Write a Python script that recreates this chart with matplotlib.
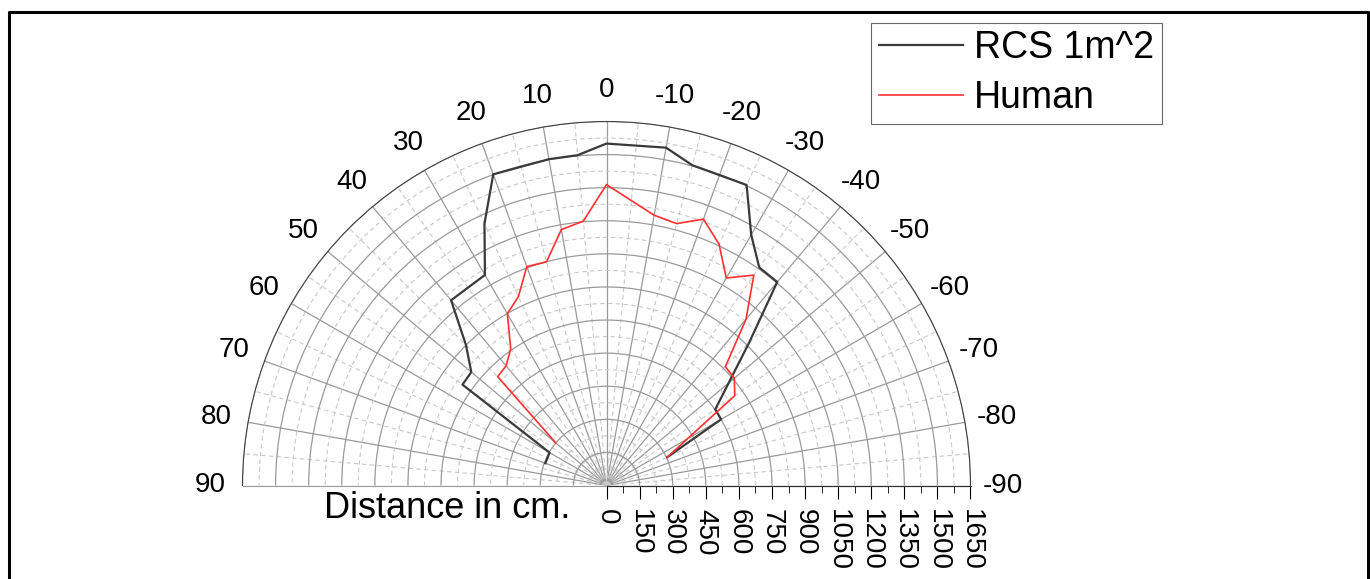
import numpy as np
import matplotlib
matplotlib.use('Agg')
import matplotlib.pyplot as plt
from matplotlib.ticker import MultipleLocator
from matplotlib.lines import Line2D

plt.rcParams['font.family'] = ['Liberation Sans', 'DejaVu Sans']

# angle in degrees, distance in cm
rcs_angle = [70, 60, 55, 50, 45, 40, 30, 25, 20, 10, 5, 0, -10, -15, -25, -30, -35, -40, -45, -55, -60, -65]
rcs_dist = [295, 298, 797, 800, 901, 1096, 1102, 1309, 1501, 1502, 1503, 1550, 1555, 1503, 1503, 1312, 1207, 1204, 913, 602, 600, 304]

human_angle = [50, 45, 40, 35, 30, 25, 20, 15, 10, 5, 0, -10, -15, -20, -25, -30, -35, -40, -45, -50, -55, -65]
human_dist = [300, 698, 708, 757, 899, 945, 1056, 1050, 1178, 1203, 1364, 1244, 1229, 1285, 1207, 1086, 1164, 984, 762, 756, 710, 304]

theta_ticks = np.arange(-90, 91, 10)
r_max = 1650
r_ticks = np.arange(0, r_max + 1, 150)

W, H = 1370, 579
fig = plt.figure(figsize=(W / 100, H / 100), dpi=100)

# half polar plot: 0 at top, positive angles to the left
# (polar axes keep a square box, the half disc sits in its middle)
ax = fig.add_axes([242.5 / W, 1 - 667.5 / H, 728 / W, 728 / H], projection='polar')
ax.set_theta_zero_location('N')
ax.set_theta_direction(1)
ax.set_thetamin(-90)
ax.set_thetamax(90)
ax.set_rlim(0, r_max)

ax.plot(np.deg2rad(rcs_angle), rcs_dist, color='#3a3a3a', lw=1.6, label='RCS 1m^2')
ax.plot(np.deg2rad(human_angle), human_dist, color='#ff3030', lw=1.2, label='Human')

ax.set_xticks(np.deg2rad(theta_ticks))
ax.set_xticklabels([str(t) for t in theta_ticks])
ax.set_xticks(np.deg2rad(np.arange(-85, 90, 10)), minor=True)
ax.set_yticks(r_ticks)
ax.set_yticks(np.arange(75, r_max, 150), minor=True)
ax.set_yticklabels([])
ax.tick_params(axis='y', which='both', length=0)
ax.tick_params(axis='x', which='major', direction='in', length=6, color='#404040', labelsize=20, pad=16)
ax.tick_params(axis='x', which='minor', direction='in', length=4, color='#404040')

ax.grid(which='major', color='#9a9a9a', linestyle='-', linewidth=0.9)
ax.grid(which='minor', color='#c8c8c8', linestyle=(0, (4, 3)), linewidth=0.8)
ax.spines['polar'].set_color('#404040')
ax.spines['start'].set_color('#303030')
ax.spines['end'].set_color('#9a9a9a')

leg = fig.legend(loc='upper left', bbox_to_anchor=(871 / W, 1 - 23 / H), fontsize=27,
                 frameon=True, fancybox=False, edgecolor='#404040', borderaxespad=0,
                 handlelength=2.25, handletextpad=0.3, labelspacing=0.36, borderpad=0.2)
leg.get_frame().set_linewidth(0.8)

# radial axis drawn as a separate axis along the right half of the base line
fig.canvas.draw()
p0 = ax.transData.transform((0, 0))
p1 = ax.transData.transform((np.deg2rad(-90), r_max))
f0 = fig.transFigure.inverted().transform(p0)
f1 = fig.transFigure.inverted().transform(p1)
ax2 = fig.add_axes([f0[0], f0[1], f1[0] - f0[0], 0.001])
ax2.patch.set_visible(False)
for s in ['top', 'left', 'right']:
    ax2.spines[s].set_visible(False)
ax2.spines['bottom'].set_color('#303030')
ax2.set_xlim(0, r_max)
ax2.set_xticks(r_ticks)
ax2.xaxis.set_minor_locator(MultipleLocator(75))
ax2.set_yticks([])
ax2.tick_params(axis='x', which='major', direction='out', length=9, labelsize=20, labelrotation=270, pad=8)
ax2.tick_params(axis='x', which='minor', direction='out', length=5)

fig.text(570 / W, 1 - 508 / H, 'Distance in cm.', fontsize=26, ha='right', va='center')

# outer frame
fig.add_artist(Line2D([9 / W, 9 / W, 1368 / W, 1368 / W], [-0.05, 1 - 11.5 / H, 1 - 11.5 / H, -0.05],
                      transform=fig.transFigure, color='black', lw=2.2))

fig.savefig('out.png', dpi=100)
